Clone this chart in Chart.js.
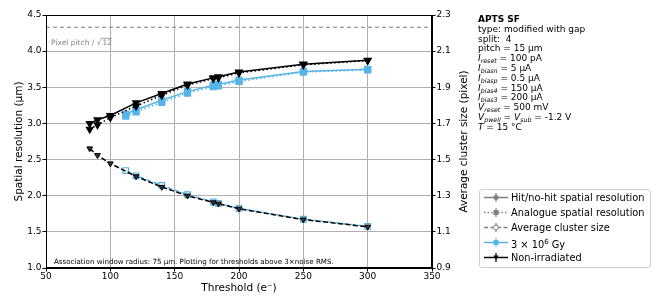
<!DOCTYPE html>
<html>
<head>
<meta charset="utf-8">
<script src="https://cdn.jsdelivr.net/npm/chart.js@4.4.1/dist/chart.umd.min.js"></script>
<style>
  body { margin: 0; background: #fff; font-family: "DejaVu Sans", sans-serif; }
  #wrap { position: relative; width: 664px; height: 307px; }
  #plot { position: absolute; left: 0; top: 0; width: 480px; height: 307px; }
  #info { position: absolute; left: 478px; top: 15px; font-size: 9px; color: #000; }
  #info div { height: 9.8px; line-height: 9.8px; white-space: nowrap; }
  #info i { font-style: italic; }
  #info sub { font-size: 6.3px; vertical-align: -2px; line-height: 0; font-style: italic; }
  #legend { position: absolute; left: 479px; top: 189px; width: 170px; height: 77px;
            border: 1px solid #d0d0d0; border-radius: 3px; background: rgba(255,255,255,0.8); }
  .row { position: absolute; left: 0; height: 15px; font-size: 9.8px; line-height: 15px; white-space: nowrap; }
  .row svg { position: absolute; left: 4px; top: 1px; }
  .row span { position: absolute; left: 31px; top: 0; }
</style>
</head>
<body>
<div id="wrap">
  <div id="plot"><canvas id="chart"></canvas></div>
  <div id="info">
    <div><b>APTS SF</b></div>
    <div>type: modified with gap</div>
    <div>split:&nbsp; 4</div>
    <div>pitch = 15 µm</div>
    <div><i>I</i><sub>reset</sub> = 100 pA</div>
    <div><i>I</i><sub>biasn</sub> = 5 µA</div>
    <div><i>I</i><sub>biasp</sub> = 0.5 µA</div>
    <div><i>I</i><sub>bias4</sub> = 150 µA</div>
    <div><i>I</i><sub>bias3</sub> = 200 µA</div>
    <div><i>V</i><sub>reset</sub> = 500 mV</div>
    <div><i>V</i><sub>pwell</sub> = <i>V</i><sub>sub</sub> = -1.2 V</div>
    <div><i>T</i> = 15 °C</div>
  </div>
  <div id="legend">
    <div class="row" style="top:0px">
      <svg width="24" height="13"><line x1="0" y1="6.5" x2="24" y2="6.5" stroke="#808080" stroke-width="1.5"/><line x1="12" y1="2" x2="12" y2="11" stroke="#808080" stroke-width="1.2"/><circle cx="12" cy="6.5" r="2.5" fill="#808080"/></svg>
      <span>Hit/no-hit spatial resolution</span>
    </div>
    <div class="row" style="top:15px">
      <svg width="24" height="13"><line x1="0" y1="6.5" x2="24" y2="6.5" stroke="#808080" stroke-width="1.5" stroke-dasharray="1.5,2"/><line x1="12" y1="2" x2="12" y2="11" stroke="#808080" stroke-width="1.2"/><rect x="9.5" y="4" width="5" height="5" fill="#808080"/></svg>
      <span>Analogue spatial resolution</span>
    </div>
    <div class="row" style="top:30px">
      <svg width="24" height="13"><line x1="0" y1="6.5" x2="24" y2="6.5" stroke="#808080" stroke-width="1.5" stroke-dasharray="4,2.5"/><line x1="12" y1="2" x2="12" y2="11" stroke="#808080" stroke-width="1.2"/><circle cx="12" cy="6.5" r="2.5" fill="#fff" stroke="#808080" stroke-width="1"/></svg>
      <span>Average cluster size</span>
    </div>
    <div class="row" style="top:45px">
      <svg width="24" height="13"><line x1="0" y1="6.5" x2="24" y2="6.5" stroke="#56B4E9" stroke-width="1.5"/><line x1="12" y1="2" x2="12" y2="11" stroke="#56B4E9" stroke-width="1.2"/><rect x="9.5" y="4" width="5" height="5" fill="#56B4E9"/></svg>
      <span>3 × 10<sup style="font-size:7px">6</sup> Gy</span>
    </div>
    <div class="row" style="top:60px">
      <svg width="24" height="13"><line x1="0" y1="6.5" x2="24" y2="6.5" stroke="#000" stroke-width="1.5"/><line x1="12" y1="2" x2="12" y2="11" stroke="#000" stroke-width="1.2"/><polygon points="9.5,4.5 14.5,4.5 12,9" fill="#000"/></svg>
      <span>Non-irradiated</span>
    </div>
  </div>
</div>
<script>
// thresholds (e-)
const thrNonIrr = [84, 90, 100, 120, 140, 160, 180, 184, 200, 250, 300];
const thrIrr = [112, 120, 140, 160, 180, 184, 200, 250, 300];

// spatial resolution (um), left axis
const hitNonIrr = [3.00, 3.05, 3.11, 3.285, 3.415, 3.545, 3.63, 3.645, 3.71, 3.82, 3.875];
const anaNonIrr = [2.92, 2.98, 3.08, 3.24, 3.39, 3.53, 3.62, 3.63, 3.70, 3.81, 3.87];
const hitIrr = [3.13, 3.19, 3.32, 3.44, 3.53, 3.54, 3.60, 3.72, 3.75];
const anaIrr = [3.10, 3.16, 3.29, 3.42, 3.51, 3.52, 3.58, 3.71, 3.74];

// average cluster size (pixel), right axis
const clNonIrr = [1.561, 1.524, 1.478, 1.407, 1.348, 1.300, 1.263, 1.256, 1.228, 1.168, 1.128];
const clIrr = [1.439, 1.410, 1.357, 1.306, 1.265, 1.258, 1.230, 1.170, 1.130];

const pitch = 15;
const pitchLimit = pitch / Math.sqrt(12);

const BLUE = '#56B4E9';
const TICK_FONT = { family: 'DejaVu Sans', size: 9 };

function pts(xs, ys) {
    return xs.map((x, i) => ({x: x, y: ys[i]}));
}

const annotations = {
    id: 'annotations',
    afterDraw(chart) {
        const ctx = chart.ctx;
        const area = chart.chartArea;
        const y = chart.scales.y;
        const midY = (area.top + area.bottom) / 2;
        ctx.save();
        // frame
        ctx.strokeStyle = '#000';
        ctx.lineWidth = 1;
        ctx.strokeRect(area.left + 0.5, area.top + 0.5, area.right - area.left - 1, area.bottom - area.top - 1);

        // pixel pitch label
        ctx.font = '7.5px "DejaVu Sans"';
        ctx.fillStyle = '#808080';
        ctx.textBaseline = 'middle';
        const py = y.getPixelForValue(pitchLimit) + 16;
        const label = 'Pixel pitch / √';
        ctx.fillText(label, area.left + 5, py);
        const w = ctx.measureText(label).width;
        ctx.fillText('12', area.left + 5 + w + 1, py);
        const w12 = ctx.measureText('12').width;
        ctx.strokeStyle = '#808080';
        ctx.lineWidth = 0.7;
        ctx.beginPath();
        ctx.moveTo(area.left + 5 + w - 1, py - 5);
        ctx.lineTo(area.left + 5 + w + 1 + w12, py - 5);
        ctx.stroke();

        // bottom note
        ctx.fillStyle = '#000';
        ctx.font = '7.1px "DejaVu Sans"';
        ctx.fillText('Association window radius: 75 µm. Plotting for thresholds above 3×noise RMS.', area.left + 8, area.bottom - 6);

        // axis titles, both reading bottom to top
        ctx.font = '10.5px "DejaVu Sans"';
        ctx.textAlign = 'center';
        ctx.save();
        ctx.translate(19, midY);
        ctx.rotate(-Math.PI / 2);
        ctx.fillText('Spatial resolution (µm)', 0, 0);
        ctx.restore();
        ctx.save();
        ctx.translate(area.right + 32, midY);
        ctx.rotate(-Math.PI / 2);
        ctx.fillText('Average cluster size (pixel)', 0, 0);
        ctx.restore();
        ctx.fillText('Threshold (e⁻)', (area.left + area.right) / 2, area.bottom + 20);
        ctx.restore();
    }
};

const ctx = document.getElementById('chart').getContext('2d');
new Chart(ctx, {
    type: 'line',
    data: {
        datasets: [
            {
                label: 'Hit/no-hit Non-irradiated',
                data: pts(thrNonIrr, hitNonIrr),
                borderColor: '#000',
                backgroundColor: '#000',
                borderWidth: 1.5,
                pointStyle: 'triangle',
                rotation: 180,
                pointRadius: 3.6,
                yAxisID: 'y',
                order: 0
            },
            {
                label: 'Analogue Non-irradiated',
                data: pts(thrNonIrr, anaNonIrr),
                borderColor: '#000',
                backgroundColor: '#000',
                borderWidth: 1.5,
                borderDash: [1.5, 2.5],
                pointStyle: 'triangle',
                rotation: 180,
                pointRadius: 3.6,
                yAxisID: 'y',
                order: 0
            },
            {
                label: 'Cluster Non-irradiated',
                data: pts(thrNonIrr, clNonIrr),
                borderColor: '#000',
                backgroundColor: '#333',
                pointBorderWidth: 1,
                borderWidth: 1.5,
                borderDash: [5, 2.5],
                pointStyle: 'triangle',
                rotation: 180,
                pointRadius: 3.3,
                yAxisID: 'y1',
                order: 0
            },
            {
                label: 'Hit/no-hit 3e6 Gy',
                data: pts(thrIrr, hitIrr),
                borderColor: BLUE,
                backgroundColor: BLUE,
                borderWidth: 1.5,
                pointStyle: 'rect',
                pointRadius: 4,
                yAxisID: 'y',
                order: 1
            },
            {
                label: 'Analogue 3e6 Gy',
                data: pts(thrIrr, anaIrr),
                borderColor: BLUE,
                backgroundColor: BLUE,
                borderWidth: 1.5,
                borderDash: [1.5, 2.5],
                pointStyle: 'rect',
                pointRadius: 4,
                yAxisID: 'y',
                order: 1
            },
            {
                label: 'Cluster 3e6 Gy',
                data: pts(thrIrr, clIrr),
                borderColor: BLUE,
                backgroundColor: 'rgba(255,255,255,0.6)',
                pointBorderWidth: 1.2,
                borderWidth: 1.5,
                borderDash: [5, 2.5],
                pointStyle: 'rect',
                pointRadius: 4,
                yAxisID: 'y1',
                order: 1
            },
            {
                label: 'Pixel pitch',
                data: [{x: 50, y: pitchLimit}, {x: 350, y: pitchLimit}],
                borderColor: '#808080',
                borderWidth: 1,
                borderDash: [4, 3],
                pointRadius: 0,
                yAxisID: 'y',
                order: 2
            }
        ]
    },
    options: {
        responsive: true,
        maintainAspectRatio: false,
        animation: false,
        layout: { padding: { top: 15, left: 0, right: 0, bottom: 0 } },
        plugins: {
            legend: { display: false },
            tooltip: { enabled: false }
        },
        scales: {
            x: {
                type: 'linear',
                min: 50,
                max: 350,
                ticks: { stepSize: 50, color: '#000', font: TICK_FONT, padding: 0 },
                grid: { color: '#b0b0b0', tickColor: '#000', tickLength: 3.5 },
                border: { color: '#000' },
                afterFit: s => { s.height = 39; }
            },
            y: {
                position: 'left',
                min: 1.0,
                max: 4.5,
                ticks: { stepSize: 0.5, color: '#000', font: TICK_FONT, padding: 1,
                         callback: v => v.toFixed(1) },
                grid: { color: '#b0b0b0', tickColor: '#000', tickLength: 3.5 },
                border: { color: '#000' },
                afterFit: s => { s.width = 46; }
            },
            y1: {
                position: 'right',
                min: 0.9,
                max: 2.3,
                ticks: { stepSize: 0.2, color: '#000', font: TICK_FONT, padding: 1,
                         callback: v => v.toFixed(1) },
                grid: { drawOnChartArea: false, tickColor: '#000', tickLength: 3.5 },
                border: { color: '#000' },
                afterFit: s => { s.width = 48; }
            }
        }
    },
    plugins: [annotations]
});
</script>
</body>
</html>
